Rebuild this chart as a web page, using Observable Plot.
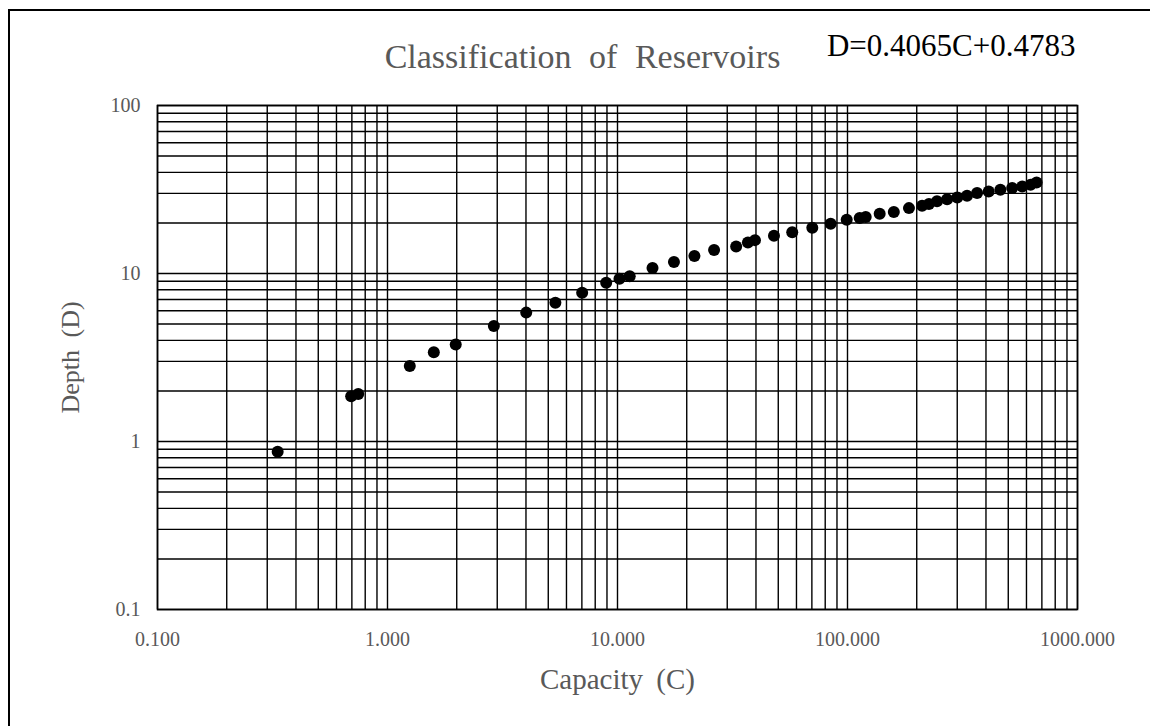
<!DOCTYPE html>
<html>
<head>
<meta charset="utf-8">
<script src="https://cdn.jsdelivr.net/npm/d3@7"></script>
<script src="https://cdn.jsdelivr.net/npm/@observablehq/plot@0.6"></script>
<style>
  html, body { margin: 0; padding: 0; background: #fff; overflow: hidden; }
  #wrap { position: relative; width: 1150px; height: 726px; }
  #border { position: absolute; left: 8px; top: 9px; width: 1200px; height: 800px;
            border-left: 2px solid #000; border-top: 2px solid #000; pointer-events: none; }
  #chart { position: absolute; left: 0; top: 0; }
</style>
</head>
<body>
<div id="wrap"><div id="chart"></div><div id="border"></div></div>
<script>
// Data
const capacity = [0.333, 0.695, 0.746, 1.25, 1.59, 1.98, 2.90, 4.01, 5.37, 7.02, 8.93, 10.2, 11.3,
  14.2, 17.6, 21.6, 26.3, 32.8, 36.9, 39.6, 47.9, 57.5, 70.3, 84.5, 99.2, 113, 120, 138, 159, 185,
  211, 226, 245, 271, 300, 331, 366, 411, 462, 520, 575, 625, 664];
const depth = [0.87, 1.86, 1.92, 2.81, 3.40, 3.78, 4.87, 5.85, 6.70, 7.68, 8.81, 9.30, 9.64,
  10.8, 11.7, 12.7, 13.8, 14.5, 15.3, 15.8, 16.8, 17.6, 18.7, 19.8, 20.9, 21.4, 21.7, 22.7, 23.2, 24.5,
  25.3, 25.9, 26.9, 27.7, 28.3, 29.0, 30.1, 30.8, 31.5, 32.3, 33.0, 33.8, 34.8];
const xTickLabels = [0.1, 1, 10, 100, 1000];
const yTickLabels = [0.1, 1, 10, 100];
const titleText = "Classification of Reservoirs";
const equationText = "D=0.4065C+0.4783";
const xLabel = "Capacity (C)";
const yLabel = "Depth (D)";

const data = capacity.map((c, i) => ({C: c, D: depth[i]}));
const xGrid = [];
for (const p of [0.1, 1, 10, 100]) for (let k = 1; k <= 9; k++) xGrid.push(+(k * p).toPrecision(3));
xGrid.push(1000);
const yGrid = [];
for (const p of [0.1, 1, 10]) for (let k = 1; k <= 9; k++) yGrid.push(+(k * p).toPrecision(3));
yGrid.push(100);

const serif = "'Liberation Serif', 'Times New Roman', serif";
const gray = "#595959";

const chart = Plot.plot({
  width: 1150,
  height: 726,
  marginLeft: 157,
  marginRight: 73,
  marginTop: 105,
  marginBottom: 117,
  style: {fontFamily: serif, background: "transparent", overflow: "visible"},
  x: {type: "log", domain: [0.1, 1000]},
  y: {type: "log", domain: [0.1, 100]},
  marks: [
    Plot.ruleX(xGrid, {x: d => d, stroke: "#000", strokeWidth: 1.4}),
    Plot.ruleY(yGrid, {y: d => d, stroke: "#000", strokeWidth: 1.4}),
    Plot.frame({stroke: "#000", strokeWidth: 1.6}),
    Plot.dot(data, {x: "C", y: "D", r: 6, fill: "#000", stroke: "none"}),
    Plot.axisX(xTickLabels, {tickSize: 0, tickPadding: 22, tickFormat: d => d.toFixed(3),
      fontSize: 20, fill: gray, label: null}),
    Plot.axisY(yTickLabels, {tickSize: 0, tickPadding: 17, tickFormat: d => String(d),
      fontSize: 20, fill: gray, label: null}),
    Plot.text([titleText], {frameAnchor: "top", textAnchor: "middle", dx: -35, dy: -62, fontSize: 34,
      fill: gray, text: d => d, style: "word-spacing: 8px"}),
    Plot.text([equationText], {frameAnchor: "top-right", textAnchor: "end", dx: -2, dy: -72,
      fontSize: 31, fill: "#000", text: d => d}),
    Plot.text([xLabel], {frameAnchor: "bottom", textAnchor: "middle", dy: 79, fontSize: 29,
      fill: gray, text: d => d}),
    Plot.text([yLabel], {frameAnchor: "left", textAnchor: "middle", dx: -87, rotate: -90, fontSize: 26,
      fill: gray, text: d => d})
  ]
});
// widen word gaps as in the reference
chart.querySelectorAll("text").forEach(t => {
  if (t.textContent === titleText) t.style.wordSpacing = "9px";
  if (t.textContent === xLabel || t.textContent === yLabel) t.style.wordSpacing = "6px";
});
document.getElementById("chart").appendChild(chart);
</script>
</body>
</html>
